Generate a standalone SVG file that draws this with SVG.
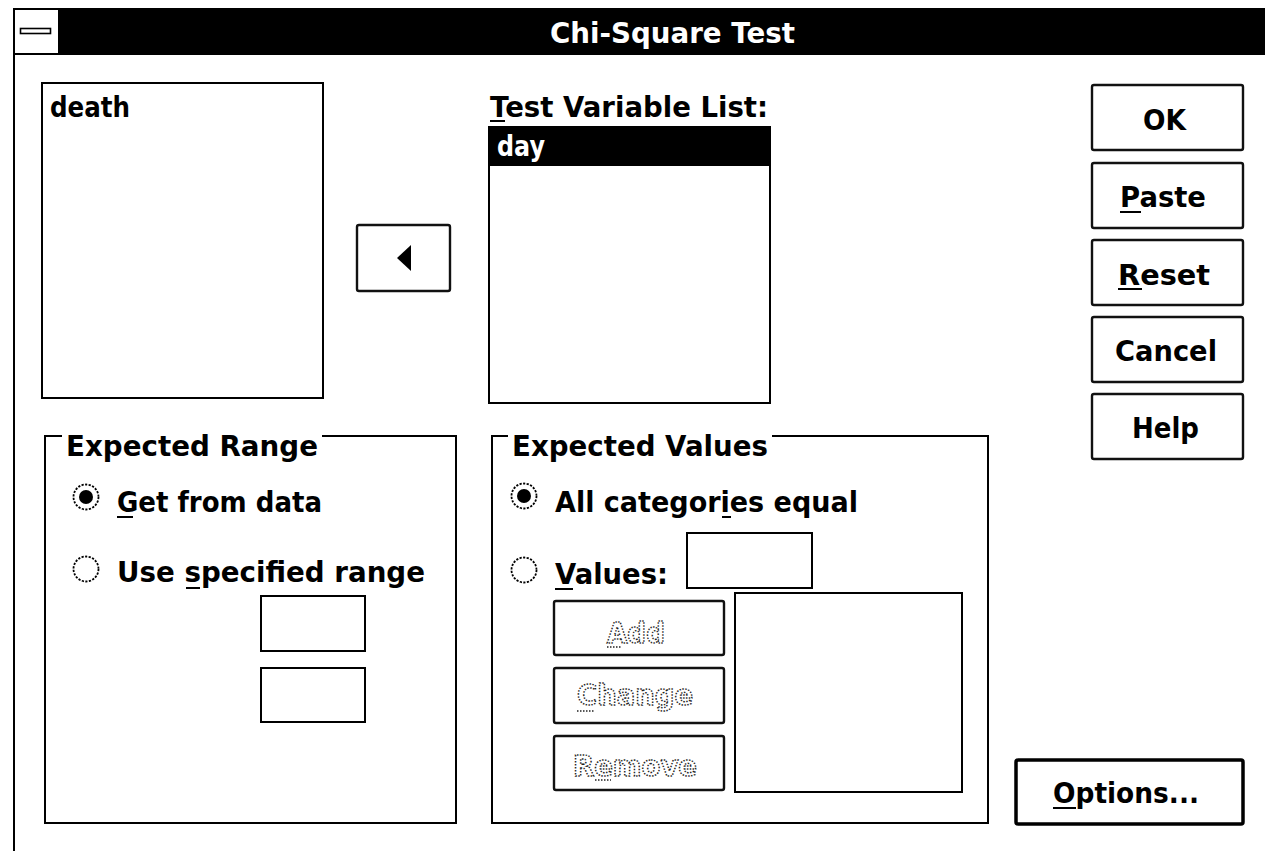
<svg xmlns="http://www.w3.org/2000/svg" width="1265" height="851" viewBox="0 0 1265 851">
  <style>
    text { font-family: "DejaVu Sans", "Liberation Sans", sans-serif; font-weight: bold; font-size: 29px; fill: #000; }
    .inv { fill: #fff; }
    .dim { fill: #fff; stroke: #222; stroke-width: 1.5; stroke-dasharray: 1.5 1.5; }
    .box { fill: #fff; stroke: #000; stroke-width: 2; }
    .btn { fill: #fff; stroke: #111; stroke-width: 2.4; }
    .grp { fill: none; stroke: #000; stroke-width: 2; }
    .ul { stroke: #000; stroke-width: 2; }
    .uldim { stroke: #222; stroke-width: 1.5; stroke-dasharray: 1.5 1.5; }
    .radio { fill: #fff; stroke: #000; stroke-width: 1.8; stroke-dasharray: 2.2 1.4; }
  </style>

  <rect x="0" y="0" width="1265" height="851" fill="#fff"/>

  <!-- window frame and caption -->
  <g id="window">
    <line x1="14" y1="8" x2="14" y2="851" stroke="#000" stroke-width="2"/>
    <rect x="13" y="8" width="1252" height="47" fill="#000"/>
    <rect x="15" y="10" width="43" height="43" fill="#fff"/>
    <rect x="20.5" y="28.5" width="30" height="5" fill="#fff" stroke="#000" stroke-width="1.6"/>
    <text class="inv" x="550" y="43" textLength="245" lengthAdjust="spacingAndGlyphs">Chi-Square Test</text>
  </g>

  <!-- source variable list -->
  <g id="source-list">
    <rect class="box" x="42" y="83" width="281" height="315"/>
    <text x="50" y="117" textLength="80" lengthAdjust="spacingAndGlyphs">death</text>
  </g>

  <!-- move button -->
  <g id="move-button">
    <rect class="btn" x="357" y="225" width="93" height="66" rx="2"/>
    <polygon points="397,258 411,245 411,271" fill="#000"/>
  </g>

  <!-- test variable list -->
  <g id="test-list">
    <text x="490" y="117" textLength="278" lengthAdjust="spacingAndGlyphs">Test Variable List:</text>
    <line class="ul" x1="490" y1="121" x2="505" y2="121"/>
    <rect class="box" x="489" y="127" width="281" height="276"/>
    <rect x="490" y="128" width="279" height="38" fill="#000"/>
    <text class="inv" x="497" y="156" textLength="48" lengthAdjust="spacingAndGlyphs">day</text>
  </g>

  <!-- command buttons -->
  <g id="btn-ok">
    <rect class="btn" x="1092" y="85" width="151" height="65" rx="2"/>
    <text x="1143" y="130" textLength="43" lengthAdjust="spacingAndGlyphs">OK</text>
  </g>
  <g id="btn-paste">
    <rect class="btn" x="1092" y="163" width="151" height="65" rx="2"/>
    <text x="1120" y="207" textLength="86" lengthAdjust="spacingAndGlyphs">Paste</text>
    <line class="ul" x1="1120" y1="212" x2="1141" y2="212"/>
  </g>
  <g id="btn-reset">
    <rect class="btn" x="1092" y="240" width="151" height="65" rx="2"/>
    <text x="1118" y="285" textLength="92" lengthAdjust="spacingAndGlyphs">Reset</text>
    <line class="ul" x1="1118" y1="289" x2="1142" y2="289"/>
  </g>
  <g id="btn-cancel">
    <rect class="btn" x="1092" y="317" width="151" height="65" rx="2"/>
    <text x="1115" y="361" textLength="102" lengthAdjust="spacingAndGlyphs">Cancel</text>
  </g>
  <g id="btn-help">
    <rect class="btn" x="1092" y="394" width="151" height="65" rx="2"/>
    <text x="1132" y="438" textLength="67" lengthAdjust="spacingAndGlyphs">Help</text>
  </g>
  <g id="btn-options">
    <rect x="1016" y="760" width="227" height="64" rx="2" fill="#fff" stroke="#000" stroke-width="3.5"/>
    <text x="1053" y="803" textLength="146" lengthAdjust="spacingAndGlyphs">Options...</text>
    <line class="ul" x1="1053" y1="808" x2="1076" y2="808"/>
  </g>

  <!-- expected range group -->
  <g id="expected-range">
    <polyline class="grp" points="62,436 45,436 45,823 456,823 456,436 322,436"/>
    <text x="66" y="456" textLength="252" lengthAdjust="spacingAndGlyphs">Expected Range</text>
    <circle class="radio" cx="86" cy="497" r="12.5"/>
    <circle cx="86" cy="497" r="7" fill="#000"/>
    <text x="117" y="512" textLength="205" lengthAdjust="spacingAndGlyphs">Get from data</text>
    <line class="ul" x1="117" y1="517" x2="133" y2="517"/>
    <circle class="radio" cx="86" cy="569" r="12.5"/>
    <text x="117" y="582" textLength="308" lengthAdjust="spacingAndGlyphs">Use specified range</text>
    <line class="ul" x1="186" y1="588" x2="200" y2="588"/>
    <rect class="box" x="261" y="596" width="104" height="55"/>
    <rect class="box" x="261" y="668" width="104" height="54"/>
  </g>

  <!-- expected values group -->
  <g id="expected-values">
    <polyline class="grp" points="508,436 492,436 492,823 988,823 988,436 772,436"/>
    <text x="512" y="456" textLength="256" lengthAdjust="spacingAndGlyphs">Expected Values</text>
    <circle class="radio" cx="524" cy="496" r="12.5"/>
    <circle cx="524" cy="496" r="7" fill="#000"/>
    <text x="555" y="512" textLength="303" lengthAdjust="spacingAndGlyphs">All categories equal</text>
    <line class="ul" x1="722" y1="517" x2="731" y2="517"/>
    <circle class="radio" cx="524" cy="570" r="12.5"/>
    <text x="555" y="584" textLength="113" lengthAdjust="spacingAndGlyphs">Values:</text>
    <line class="ul" x1="555" y1="589" x2="573" y2="589"/>
    <rect class="box" x="687" y="533" width="125" height="55"/>
    <rect class="box" x="735" y="593" width="227" height="199"/>
  </g>

  <!-- disabled list editing buttons -->
  <g id="btn-add">
    <rect class="btn" x="554" y="601" width="170" height="54" rx="2"/>
    <text class="dim" x="607" y="643" textLength="58" lengthAdjust="spacingAndGlyphs">Add</text>
    <line class="uldim" x1="607" y1="647" x2="622" y2="647"/>
  </g>
  <g id="btn-change">
    <rect class="btn" x="554" y="668" width="170" height="55" rx="2"/>
    <text class="dim" x="577" y="705" textLength="116" lengthAdjust="spacingAndGlyphs">Change</text>
    <line class="uldim" x1="577" y1="711" x2="594" y2="711"/>
  </g>
  <g id="btn-remove">
    <rect class="btn" x="554" y="736" width="170" height="54" rx="2"/>
    <text class="dim" x="573" y="776" textLength="124" lengthAdjust="spacingAndGlyphs">Remove</text>
    <line class="uldim" x1="595" y1="780" x2="611" y2="780"/>
  </g>

  <!-- this dialog has no connectors -->
  <g id="connectors"/>
</svg>
